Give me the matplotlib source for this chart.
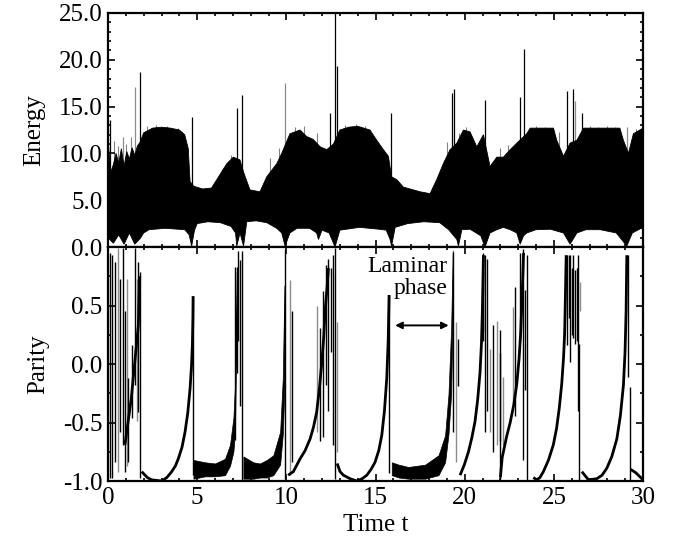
import numpy as np
import matplotlib.pyplot as plt
from matplotlib.ticker import MultipleLocator, FormatStrFormatter

plt.rcParams['font.family'] = ['Liberation Serif', 'DejaVu Serif']
plt.rcParams['font.size'] = 18

# ---- energy: envelope of the fast oscillation ----
energy_hi_t = [0.0, 0.15, 0.3, 0.45, 0.6, 0.75, 0.9, 1.05, 1.2, 1.35, 1.5, 1.65, 1.8, 2.0, 2.5,
               3.0, 3.5, 4.0, 4.3, 4.5, 4.6,
               4.8, 5.3, 5.8, 6.1, 6.66, 7.03, 7.4, 7.6, 7.96, 8.52, 8.9, 9.46, 9.74,
               10.2, 10.77, 11.14, 11.5, 11.9, 12.27, 12.64, 13.0, 13.5, 14.0, 14.69,
               15.07, 15.44, 15.72, 15.9, 16.19, 16.56, 17.5, 18.06, 18.43, 18.8, 19.18,
               19.56, 19.93, 20.3, 20.68, 21.05, 21.42, 21.8, 22.17, 22.55, 22.92, 23.48,
               23.67, 24.98, 25.16, 25.54, 25.91, 26.29, 26.66, 28.7, 28.9, 29.18, 29.46, 30.0]
energy_hi = [11.5, 8.0, 8.8, 10.0, 9.0, 10.5, 8.6, 10.2, 9.4, 10.6, 9.8, 10.8, 11.2, 12.2, 12.7,
             12.8, 12.7, 12.5, 12.0, 10.5, 7.0,
             6.5, 6.2, 6.3, 7.2, 8.9, 9.6, 9.3, 8.0, 6.1, 5.9, 7.5, 8.9, 10.0,
             12.1, 12.5, 11.8, 11.5, 10.7, 10.4, 11.0, 12.5, 12.8, 12.9, 12.5,
             11.4, 10.4, 9.7, 7.5, 7.2, 6.4, 5.9, 5.7, 7.2, 8.9, 10.4,
             11.1, 12.5, 12.3, 10.7, 12.0, 8.6, 9.6, 9.6, 10.4, 11.1, 12.1,
             12.7, 12.7, 11.4, 9.7, 11.1, 11.4, 12.7, 12.7, 11.4, 10.0, 12.1, 12.7]

energy_lo_t = [0.0, 0.3, 0.6, 0.9, 1.2, 1.5, 1.8, 2.0, 2.3, 3.2, 4.3, 4.55, 4.69, 4.85, 5.0,
               5.6, 6.3, 6.9, 7.15, 7.22, 7.4, 7.6, 7.78, 8.3, 8.9, 9.46, 9.74, 9.93,
               10.2, 10.6, 11.3, 11.7, 11.8, 12.0, 12.4, 12.73, 13.0, 14.1, 15.2, 15.6,
               15.82, 15.9, 16.1, 16.8, 17.7, 18.6, 19.1, 19.56, 19.65, 19.84, 20.3, 20.9,
               21.14, 21.42, 21.8, 22.17, 22.55, 22.92, 23.11, 23.3, 23.48, 24.0, 24.8,
               25.54, 25.91, 26.29, 26.8, 27.6, 28.5, 29.09, 29.4, 30.0]
energy_lo = [1.0, 0.4, 1.3, 0.3, 1.5, 0.3, 0.9, 1.5, 1.85, 2.0, 1.85, 1.3, 0.1, 1.8, 2.5,
             2.7, 2.6, 2.2, 1.5, 0.1, 1.5, 0.1, 2.7, 2.8, 2.6, 2.0, 1.5, 0.1,
             1.5, 2.0, 2.0, 1.5, 0.8, 1.8, 1.5, 0.0, 1.8, 2.1, 1.9, 1.8,
             0.8, 0.1, 2.1, 2.5, 2.7, 2.6, 1.85, 0.8, 0.1, 1.85, 1.9, 1.2,
             0.0, 1.5, 1.85, 2.1, 1.85, 1.5, 0.3, 1.2, 1.5, 1.85, 1.9,
             1.5, 0.3, 1.5, 1.85, 1.85, 1.5, 0.1, 1.5, 2.1]

# isolated energy spikes: time, height, grey?
spike_t = [0.11, 0.86, 1.51, 1.77, 4.69, 7.25, 7.5, 9.93, 12.45, 12.75, 12.82, 15.86,
           19.28, 19.42, 21.14, 23.11, 23.35, 25.76, 26.1, 26.2, 26.6, 29.09]
spike_h = [13.6, 11.8, 17.1, 18.7, 13.9, 14.8, 16.2, 17.5, 14.3, 25.0, 19.3, 14.3,
           16.4, 16.9, 15.7, 16.0, 21.2, 16.7, 16.9, 15.6, 14.3, 12.8]
spike_grey = [0, 1, 1, 0, 0, 0, 0, 1, 0, 0, 0, 0, 0, 0, 0, 0, 0, 0, 0, 1, 0, 1]

# lighter streaks poking above the dense band
streak_t = [0.35, 0.55, 1.0, 1.3, 2.2, 2.7, 3.3, 3.9, 6.4, 6.9, 9.1, 9.6, 10.5, 11.0, 11.7,
            13.3, 13.9, 14.4, 19.0, 19.7, 20.1, 22.0, 22.4, 24.0, 24.5, 25.3, 27.0, 27.5,
            28.0, 28.4, 29.6]
streak_h = [11.3, 10.8, 11.0, 11.8, 12.9, 13.0, 12.9, 12.7, 8.3, 9.8, 9.5, 10.6, 12.8, 12.9, 12.2,
            13.0, 13.1, 12.9, 11.2, 12.2, 12.8, 10.6, 10.9, 12.9, 12.8, 12.3, 12.9, 12.8,
            12.9, 12.8, 12.6]

# ---- parity: slow rises between bursts ----
rises = [
    [(0.95, -0.69), (1.3, -0.3), (1.7, 0.33), (1.78, 0.75)],
    [(1.89, -0.92), (2.2, -0.97), (2.45, -0.99), (3.01, -1.0), (3.3, -0.97), (3.57, -0.92),
     (3.78, -0.87), (3.94, -0.81), (4.15, -0.71), (4.32, -0.58), (4.47, -0.42),
     (4.6, -0.21), (4.68, -0.02), (4.73, 0.16), (4.76, 0.4), (4.77, 0.58)],
    [(10.1, -0.95), (10.39, -0.92), (10.77, -0.81), (11.05, -0.74), (11.33, -0.64),
     (11.52, -0.54), (11.7, -0.41), (11.86, -0.2), (11.99, 0.02), (12.1, 0.24),
     (12.17, 0.45), (12.28, 0.65), (12.36, 0.82)],
    [(12.85, -0.85), (13.01, -0.92), (13.2, -0.95), (13.57, -0.98), (13.95, -1.0),
     (14.25, -0.98), (14.51, -0.95), (14.75, -0.9), (14.97, -0.84), (15.18, -0.74),
     (15.35, -0.61), (15.5, -0.4), (15.63, -0.12), (15.71, 0.2), (15.76, 0.59)],
    [(19.74, -0.95), (19.98, -0.86), (20.21, -0.75), (20.4, -0.63), (20.58, -0.49),
     (20.73, -0.3), (20.86, -0.07), (20.94, 0.18), (20.99, 0.45), (21.05, 0.93)],
    [(22.0, -0.97), (22.1, -0.8), (22.35, -0.62), (22.55, -0.5), (22.75, -0.35),
     (22.92, -0.17), (23.05, 0.05), (23.14, 0.27), (23.2, 0.5), (23.3, 0.95)],
    [(23.85, -0.97), (24.04, -0.99), (24.22, -0.97), (24.41, -0.92), (24.7, -0.82),
     (24.97, -0.69), (25.15, -0.55), (25.3, -0.38), (25.44, -0.17), (25.54, 0.05),
     (25.6, 0.25), (25.63, 0.45), (25.69, 0.93)],
    [(26.57, -0.92), (26.94, -0.99), (27.41, -0.98), (27.7, -0.95), (27.97, -0.89),
     (28.25, -0.79), (28.53, -0.64), (28.73, -0.44), (28.9, -0.18), (28.99, 0.1),
     (29.05, 0.45), (29.09, 0.93)],
    [(29.3, -0.9), (29.6, -0.93), (30.0, -0.99)],
]

# laminar phases: oscillating band near -0.9
bands = [
    ([4.79, 5.44, 6.0, 6.56, 6.84, 7.03, 7.12, 7.22],
     [-0.82, -0.84, -0.85, -0.81, -0.69, -0.46, -0.18, 0.79],
     [-0.98, -0.96, -0.96, -0.95, -0.87, -0.75, -0.58, 0.5]),
    ([7.59, 8.15, 8.52, 8.9, 9.27, 9.65, 9.8, 9.89],
     [-0.79, -0.84, -0.85, -0.82, -0.78, -0.58, -0.12, 0.67],
     [-0.98, -0.98, -0.97, -0.97, -0.95, -0.86, -0.6, -0.2]),
    ([15.91, 16.3, 16.84, 17.78, 18.53, 18.9, 19.09, 19.24, 19.33],
     [-0.84, -0.86, -0.88, -0.86, -0.78, -0.61, -0.26, 0.31, 0.97],
     [-0.95, -0.97, -0.98, -0.98, -0.95, -0.84, -0.6, -0.25, 0.5]),
]

# chaotic bursts: time, low, high, grey?
burst_t = [0.1, 0.21, 0.39, 0.58, 0.67, 0.86, 0.95, 1.05, 1.14, 1.33, 1.51, 1.61, 1.7, 1.79,
           4.78, 7.12, 7.22, 7.31, 7.4, 7.5, 9.93,
           10.21, 10.3, 11.7, 11.89, 12.08, 12.23, 12.36, 12.49, 12.6, 12.73, 12.83, 15.78,
           19.37, 19.52, 19.65, 21.0, 21.05, 21.14, 21.24, 21.42, 21.6, 21.8, 21.98, 22.0, 22.17,
           22.7, 22.83, 23.11, 23.29, 23.39, 23.48,
           25.72, 25.82, 25.91, 26.01, 26.1, 26.19, 26.29, 26.38, 26.43, 26.47, 29.18, 29.28]
burst_lo = [-0.97, -0.97, -0.84, -0.92, -0.58, -0.69, -0.92, -0.87, -0.84, -0.46, -0.18, -0.49, -0.41, -0.97,
            -0.95, -0.65, -0.08, 0.2, -0.36, -1.0, -0.98,
            -0.95, -0.84, -0.58, -0.66, -0.62, -0.18, -0.4, 0.1, -0.69, -0.98, -0.75, -0.93,
            -0.58, -0.84, -0.19, 0.28, 0.2, -0.58, -0.4, -0.58, -0.75, -0.69, -0.66, -0.99, -0.69,
            -0.35, -0.44, 0.2, -0.82, -0.22, -1.0,
            0.16, 0.39, 0.02, 0.25, 0.22, 0.17, 0.2, -0.4, -0.99, 0.45, -0.11, -0.99]
burst_hi = [0.95, 0.93, 0.87, 0.99, 0.73, 0.99, 0.45, 0.73, -0.12, 0.16, 0.99, 0.73, 0.87, 0.79,
            0.58, 0.83, 0.83, 0.97, 0.89, 0.97, 0.98,
            0.72, 0.45, 0.5, 0.31, 0.62, 0.85, 0.9, 0.82, 0.93, 0.99, 0.36, 0.59,
            0.96, 0.36, 0.21, 0.93, 0.95, 0.93, 0.9, 0.13, 0.33, 0.37, 0.09, 0.29, -0.11,
            0.49, 0.66, 0.95, 0.98, 0.63, 0.93,
            0.93, 0.93, 0.93, 0.82, 0.93, 0.8, 0.82, 0.93, 0.17, 0.7, 0.93, -0.2]
burst_grey = [0, 0, 0, 1, 0, 0, 0, 1, 0, 0, 0, 1, 0, 0,
              0, 0, 0, 0, 0, 0, 0,
              1, 0, 1, 0, 0, 0, 0, 0, 0, 0, 1, 0,
              0, 1, 0, 0, 0, 0, 0, 1, 0, 1, 0, 0, 1,
              1, 0, 0, 0, 0, 0,
              0, 0, 0, 0, 0, 0, 0, 0, 0, 1, 0, 0]

fig = plt.figure(figsize=(6.73, 5.46), dpi=100)
ax1 = fig.add_axes([0.1605, 0.5476, 0.795, 0.4286])
ax2 = fig.add_axes([0.1605, 0.119, 0.795, 0.4286])

# energy panel (spikes sit behind the dense band so only their tips show)
ax1.vlines(streak_t, 3.0, streak_h, colors='0.5', lw=0.8, zorder=0.5)
cols = ['0.55' if g else 'black' for g in spike_grey]
ax1.vlines(spike_t, 3.0, spike_h, colors=cols, lw=0.9, zorder=0.5)
ax1.fill(list(energy_hi_t) + energy_lo_t[::-1], list(energy_hi) + energy_lo[::-1],
         color='black', lw=0.6, zorder=1)
ax1.set_xlim(0, 30)
ax1.set_ylim(0, 25)
ax1.yaxis.set_major_locator(MultipleLocator(5))
ax1.yaxis.set_minor_locator(MultipleLocator(1))
ax1.yaxis.set_major_formatter(FormatStrFormatter('%.1f'))
ax1.set_ylabel('Energy', labelpad=10)
ax1.tick_params(labelbottom=False)

# parity panel
for b_t, b_top, b_bot in bands:
    ax2.fill_between(b_t, b_bot, b_top, color='black', lw=0.5)
cols = ['0.55' if g else 'black' for g in burst_grey]
ax2.vlines(burst_t, burst_lo, burst_hi, colors=cols, lw=1.0)
for seg in rises:
    ts = [p[0] for p in seg]
    ps = [p[1] for p in seg]
    ax2.plot(ts, ps, color='black', lw=2.0, solid_capstyle='butt')
ax2.set_xlim(0, 30)
ax2.set_ylim(-1, 1)
ax2.yaxis.set_major_locator(MultipleLocator(0.5))
ax2.yaxis.set_minor_locator(MultipleLocator(0.25))
ax2.yaxis.set_major_formatter(FormatStrFormatter('%.1f'))
ax2.set_yticks([-1.0, -0.5, 0.0, 0.5])
ax2.set_ylabel('Parity', labelpad=10)
ax2.set_xlabel('Time t', labelpad=4)

ax2.text(19.05, 0.92, 'Laminar\nphase', ha='right', va='top', multialignment='right',
         linespacing=1.05, fontsize=17)
ax2.annotate('', xy=(16.1, 0.33), xytext=(19.1, 0.33),
             arrowprops=dict(arrowstyle='<|-|>', color='black', lw=1.4,
                             mutation_scale=10, shrinkA=0, shrinkB=0))

for ax in (ax1, ax2):
    ax.xaxis.set_major_locator(MultipleLocator(5))
    ax.xaxis.set_minor_locator(MultipleLocator(1))
    ax.tick_params(which='both', direction='in', top=True, right=True, width=1.2)
    ax.tick_params(which='major', length=5, pad=4)
    ax.tick_params(which='minor', length=2.5)
    for s in ax.spines.values():
        s.set_linewidth(1.6)

fig.savefig('out.png', dpi=100)
